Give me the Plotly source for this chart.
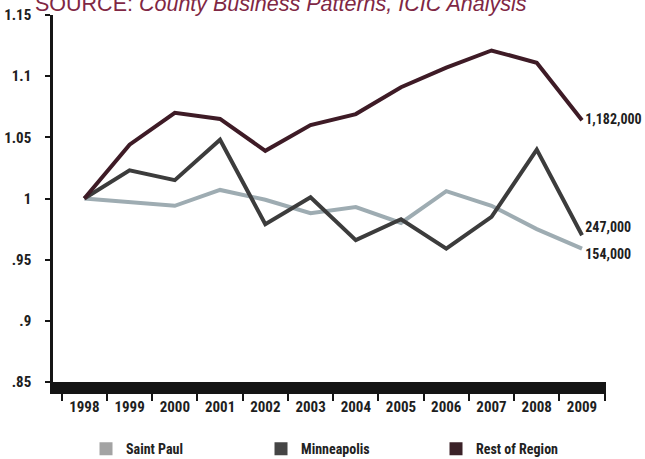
import plotly.graph_objects as go

years = ["1998", "1999", "2000", "2001", "2002", "2003", "2004", "2005", "2006", "2007", "2008", "2009"]
saint_paul = [1.0, 0.997, 0.994, 1.007, 0.999, 0.988, 0.993, 0.980, 1.006, 0.994, 0.975, 0.959]
minneapolis = [1.0, 1.023, 1.015, 1.048, 0.979, 1.001, 0.966, 0.983, 0.959, 0.985, 1.040, 0.970]
rest_of_region = [1.0, 1.044, 1.070, 1.065, 1.039, 1.060, 1.069, 1.091, 1.107, 1.121, 1.111, 1.064]
end_counts = [154000, 247000, 1182000]
series_names = ["Saint Paul", "Minneapolis", "Rest of Region"]
y_tickvals = [0.85, 0.9, 0.95, 1.0, 1.05, 1.1, 1.15]
y_ticktext = [".85", ".9", ".95", "1", "1.05", "1.1", "1.15"]
source_text = "SOURCE: <i>County Business Patterns, ICIC Analysis</i>"

line_colors = ["#9eacb2", "#3c3c3c", "#3e1b26"]
swatch_colors = ["#a3a3a3", "#454545", "#3b2228"]
label_pos = ["bottom right", "top right", "middle right"]
FONT = "Roboto Condensed, DejaVu Sans Condensed, Roboto, sans-serif"
TXT = "#1e1e1e"

fig = go.Figure()
all_series = [saint_paul, minneapolis, rest_of_region]
for vals, col, name, cnt, pos in zip(all_series, line_colors, series_names, end_counts, label_pos):
    labels = [""] * (len(vals) - 1) + [" " + f"{cnt:,}"]
    fig.add_trace(go.Scatter(x=years, y=vals, mode="lines+text", name=name,
                             line=dict(color=col, width=4, shape="linear"),
                             text=labels, textposition=pos, cliponaxis=False,
                             textfont=dict(family=FONT, size=14, color=TXT, weight="bold"),
                             showlegend=False, hoverinfo="x+y"))
for col, name in zip(swatch_colors, series_names):
    fig.add_trace(go.Scatter(x=[None], y=[None], mode="markers", name=name,
                             marker=dict(symbol="square", size=13, color=col),
                             showlegend=True))

fig.add_annotation(xref="paper", yref="paper", x=-0.036, y=1.0, yshift=-3, text=source_text,
                   showarrow=False, xanchor="left", yanchor="bottom",
                   font=dict(family="Liberation Sans, Arial, sans-serif", size=21.5,
                             color="#7f2744", weight="normal"))

fig.update_layout(
    width=645, height=459,
    margin=dict(l=53, r=39, t=15, b=77, pad=0, autoexpand=False),
    paper_bgcolor="white", plot_bgcolor="white",
    font=dict(family=FONT, size=15, color=TXT, weight="bold"),
    xaxis=dict(type="category", range=[-0.692, 11.53], tickson="boundaries",
               automargin=False, tickangle=0,
               showgrid=False, zeroline=False, showline=True, linewidth=12,
               linecolor="#151515", ticks="outside", ticklen=7, tickwidth=2,
               tickcolor="#151515", tickfont=dict(family=FONT, size=15, color=TXT, weight="bold")),
    yaxis=dict(range=[0.85, 1.15], tickvals=y_tickvals, ticktext=y_ticktext,
               automargin=False,
               showgrid=False, zeroline=False, showline=True, linewidth=2.5,
               linecolor="#151515", ticks="outside", ticklen=5, tickwidth=2,
               tickcolor="#151515", ticklabelstandoff=11,
               tickfont=dict(family=FONT, size=15, color=TXT, weight="bold")),
    legend=dict(orientation="h", x=0.0597, xanchor="left", y=-0.183, yanchor="middle",
                entrywidth=130, entrywidthmode="pixels", itemsizing="trace",
                font=dict(family=FONT, size=14, color="#222222", weight="bold"),
                bgcolor="rgba(0,0,0,0)"),
    showlegend=True,
)

fig.write_html("out.html", config={"displayModeBar": False},
               post_script="document.body.style.margin='0';")
